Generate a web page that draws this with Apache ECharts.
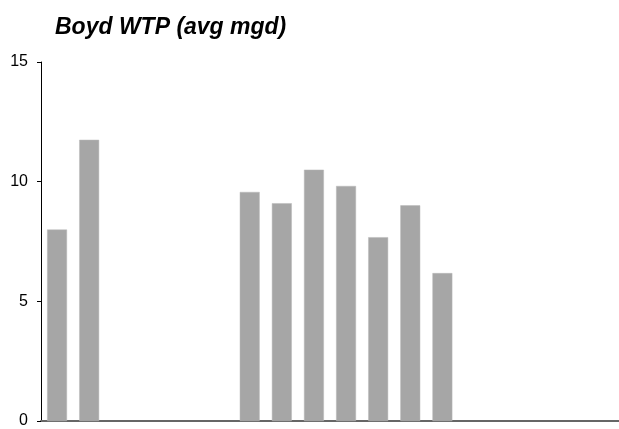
<!DOCTYPE html>
<html>
<head>
<meta charset="utf-8">
<script src="https://cdn.jsdelivr.net/npm/echarts@6/dist/echarts.min.js"></script>
<style>
html,body{margin:0;padding:0;background:#fff;}
#chart{width:619px;height:429px;}
</style>
</head>
<body>
<div id="chart"></div>
<script>
var titleText = "Boyd WTP (avg mgd)";
var categories = ["1","2","3","4","5","6","7","8","9","10","11","12","13","14","15","16","17","18"];
var values = [8.0, 11.75, null, null, null, null, 9.57, 9.1, 10.5, 9.82, 7.68, 9.01, 6.18, null, null, null, null, null];
var yTicks = [0, 5, 10, 15];

var chart = echarts.init(document.getElementById('chart'), null, {renderer: 'canvas'});
chart.setOption({
  animation: false,
  backgroundColor: '#ffffff',
  title: {
    text: titleText,
    left: 50,
    top: 11,
    textStyle: {fontFamily: 'Liberation Sans, Arial, sans-serif', fontSize: 23, fontWeight: 'bold', fontStyle: 'italic', color: '#000'}
  },
  grid: {left: 41, right: -10, top: 62, bottom: 8, containLabel: false},
  xAxis: {
    type: 'category',
    data: categories,
    axisLine: {show: true, lineStyle: {color: '#666666', width: 2}},
    axisTick: {show: false},
    axisLabel: {show: false},
    splitLine: {show: false}
  },
  yAxis: {
    type: 'value',
    min: 0, max: 15, interval: 5,
    axisLine: {show: true, lineStyle: {color: '#000', width: 1}},
    axisTick: {show: true, length: 4, lineStyle: {color: '#000'}},
    axisLabel: {color: '#000', fontSize: 16, fontFamily: 'Liberation Sans, Arial, sans-serif', margin: 13,
      formatter: function(v){ return yTicks.indexOf(v) >= 0 ? String(v) : ''; }},
    splitLine: {show: false}
  },
  series: [{
    type: 'bar',
    data: values,
    barWidth: '62%',
    itemStyle: {color: '#a6a6a6', borderColor: '#b8b8b8', borderWidth: 0.5}
  }]
});
</script>
</body>
</html>
